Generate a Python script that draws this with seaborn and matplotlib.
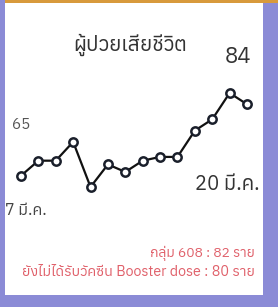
import numpy as np
import pandas as pd
import seaborn as sns
import matplotlib.pyplot as plt
from matplotlib.patches import Rectangle

days = ['7', '8', '9', '10', '11', '12', '13', '14', '15', '16', '17', '18', '19', '20']
deaths = [65, 69, 69, 74, 62, 68, 66, 69, 70, 70, 77, 80, 87, 84]

title = 'ผู้ป่วยเสียชีวิต'
first_label = '7 มี.ค.'
last_label = '20 มี.ค.'
note1 = 'กลุ่ม 608 : 82 ราย'
note2 = 'ยังไม่ได้รับวัคซีน Booster dose : 80 ราย'

sns.set_style('white')
# thai needs its own font, dejavu as fallback
plt.rcParams['font.family'] = ['Anuphan', 'Noto Sans Thai', 'DejaVu Sans']

df = pd.DataFrame({'x': range(len(days)), 'deaths': deaths})

fig = plt.figure(figsize=(2.78, 3.07), dpi=100)
fig.patch.set_facecolor('#8b8bd6')

ax = fig.add_axes([5 / 278, 1 - 295 / 307, 258 / 278, 292 / 307])
ax.set_facecolor('white')
sns.lineplot(data=df, x='x', y='deaths', ax=ax, color='#111111', lw=1.6,
             marker='o', markersize=6, markerfacecolor='white',
             markeredgecolor='#1a1f2b', markeredgewidth=1.8)
ax.set_xlim(-0.92, 13.92)
ax.set_ylim(87 - 25 * 202 / 94, 87 + 25 * 90 / 94)
ax.set_xticks([])
ax.set_yticks([])
ax.set_xlabel('')
ax.set_ylabel('')
for s in ax.spines.values():
    s.set_visible(False)

# orange strip on top
fig.patches.append(Rectangle((5 / 278, 1 - 3 / 307), 273 / 278, 3 / 307, zorder=5,
                             transform=fig.transFigure, facecolor='#d89a3c', edgecolor='none'))

fig.text(130 / 278, 1 - 45 / 307, title, ha='center', va='center', fontsize=15, color='#333333')
fig.text(238 / 278, 1 - 57 / 307, str(deaths[-1]), ha='center', va='center', fontsize=16, color='#333333')
fig.text(21 / 278, 1 - 125 / 307, str(deaths[0]), ha='center', va='center', fontsize=11, color='#555555')
fig.text(260 / 278, 1 - 185 / 307, last_label, ha='right', va='center', fontsize=14.5, color='#333333')
fig.text(5 / 278, 1 - 210 / 307, first_label, ha='left', va='center', fontsize=11.5, color='#444444')
fig.text(255 / 278, 1 - 253 / 307, note1, ha='right', va='center', fontsize=10, color='#e0606a')
fig.text(255 / 278, 1 - 272 / 307, note2, ha='right', va='center', fontsize=10.3, color='#e0606a')

fig.savefig('out.png', dpi=100, facecolor=fig.get_facecolor())
